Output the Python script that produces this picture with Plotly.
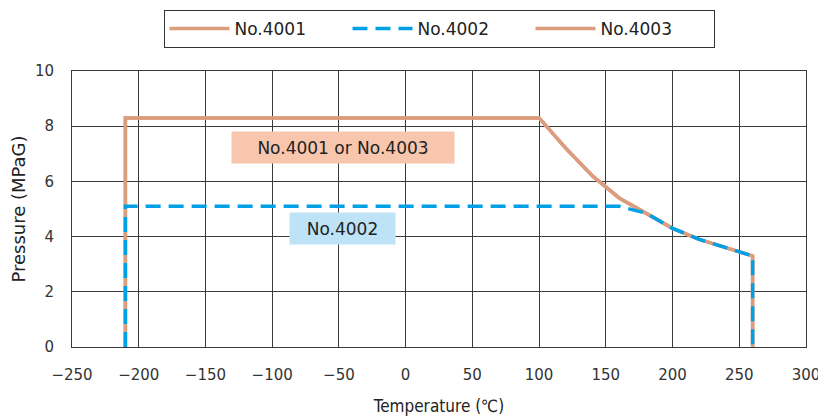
import plotly.graph_objects as go

temp_4001 = [-210, -210, 100, 120, 140, 160, 180, 200, 220, 240, 260, 260]
pres_4001 = [0, 8.3, 8.3, 7.2, 6.2, 5.4, 4.85, 4.3, 3.9, 3.6, 3.3, 0]
temp_4002 = [-210, -210, 160, 180, 200, 220, 240, 260, 260]
pres_4002 = [0, 5.1, 5.1, 4.85, 4.3, 3.9, 3.6, 3.3, 0]

orange = "#DB9D7E"
blue = "#00A0E6"
font = "DejaVu Sans, sans-serif"

fig = go.Figure()
fig.add_trace(go.Scatter(x=temp_4001, y=pres_4001, mode="lines", name="No.4001",
                         line=dict(color=orange, width=3.5), legendrank=1))
fig.add_trace(go.Scatter(x=temp_4001, y=pres_4001, mode="lines", name="No.4003",
                         line=dict(color=orange, width=3.5), legendrank=3))
fig.add_trace(go.Scatter(x=temp_4002, y=pres_4002, mode="lines", name="No.4002",
                         line=dict(color=blue, width=3.5, dash="15px,8px"), legendrank=2))

fig.add_annotation(x=-47, y=7.23, text="No.4001 or No.4003", showarrow=False,
                   bgcolor="#F8C6AD", font=dict(size=17, color="#222", family=font),
                   width=220, height=29)
fig.add_annotation(x=-47, y=4.29, text="No.4002", showarrow=False,
                   bgcolor="#BEE3F7", font=dict(size=17, color="#222", family=font),
                   width=103, height=29)

axis_common = dict(showgrid=True, gridcolor="#3a3a3a", gridwidth=1,
                   showline=True, linecolor="#3a3a3a", linewidth=1, mirror=True,
                   zeroline=False, ticks="", tickfont=dict(size=15, color="#333", family=font))

# page body has an 8px default margin, so the figure is offset by 8px
fig.update_layout(
    width=818, height=408,
    margin=dict(l=64, r=20, t=63, b=69, autoexpand=False),
    paper_bgcolor="white", plot_bgcolor="white",
    font=dict(family=font, color="#222"),
    xaxis=dict(range=[-250, 300], dtick=50, tick0=-250, ticklabelstandoff=14,
               title=dict(text="Temperature (℃)",
                          font=dict(size=17, color="#222",
                                    family="Liberation Sans Narrow, DejaVu Sans Condensed, sans-serif"),
                          standoff=17),
               **axis_common),
    yaxis=dict(range=[0, 10], dtick=2, ticklabelstandoff=14,
               title=dict(text="Pressure (MPaG)", font=dict(size=18, color="#222"), standoff=13),
               **axis_common),
    legend=dict(orientation="h", x=0.5, xanchor="center", y=1.221, yanchor="top",
                bordercolor="#333", borderwidth=1,
                font=dict(size=17, color="#222", family=font),
                entrywidth=108, itemwidth=60, tracegroupgap=0),
    showlegend=True,
)
fig.write_html("out.html")
